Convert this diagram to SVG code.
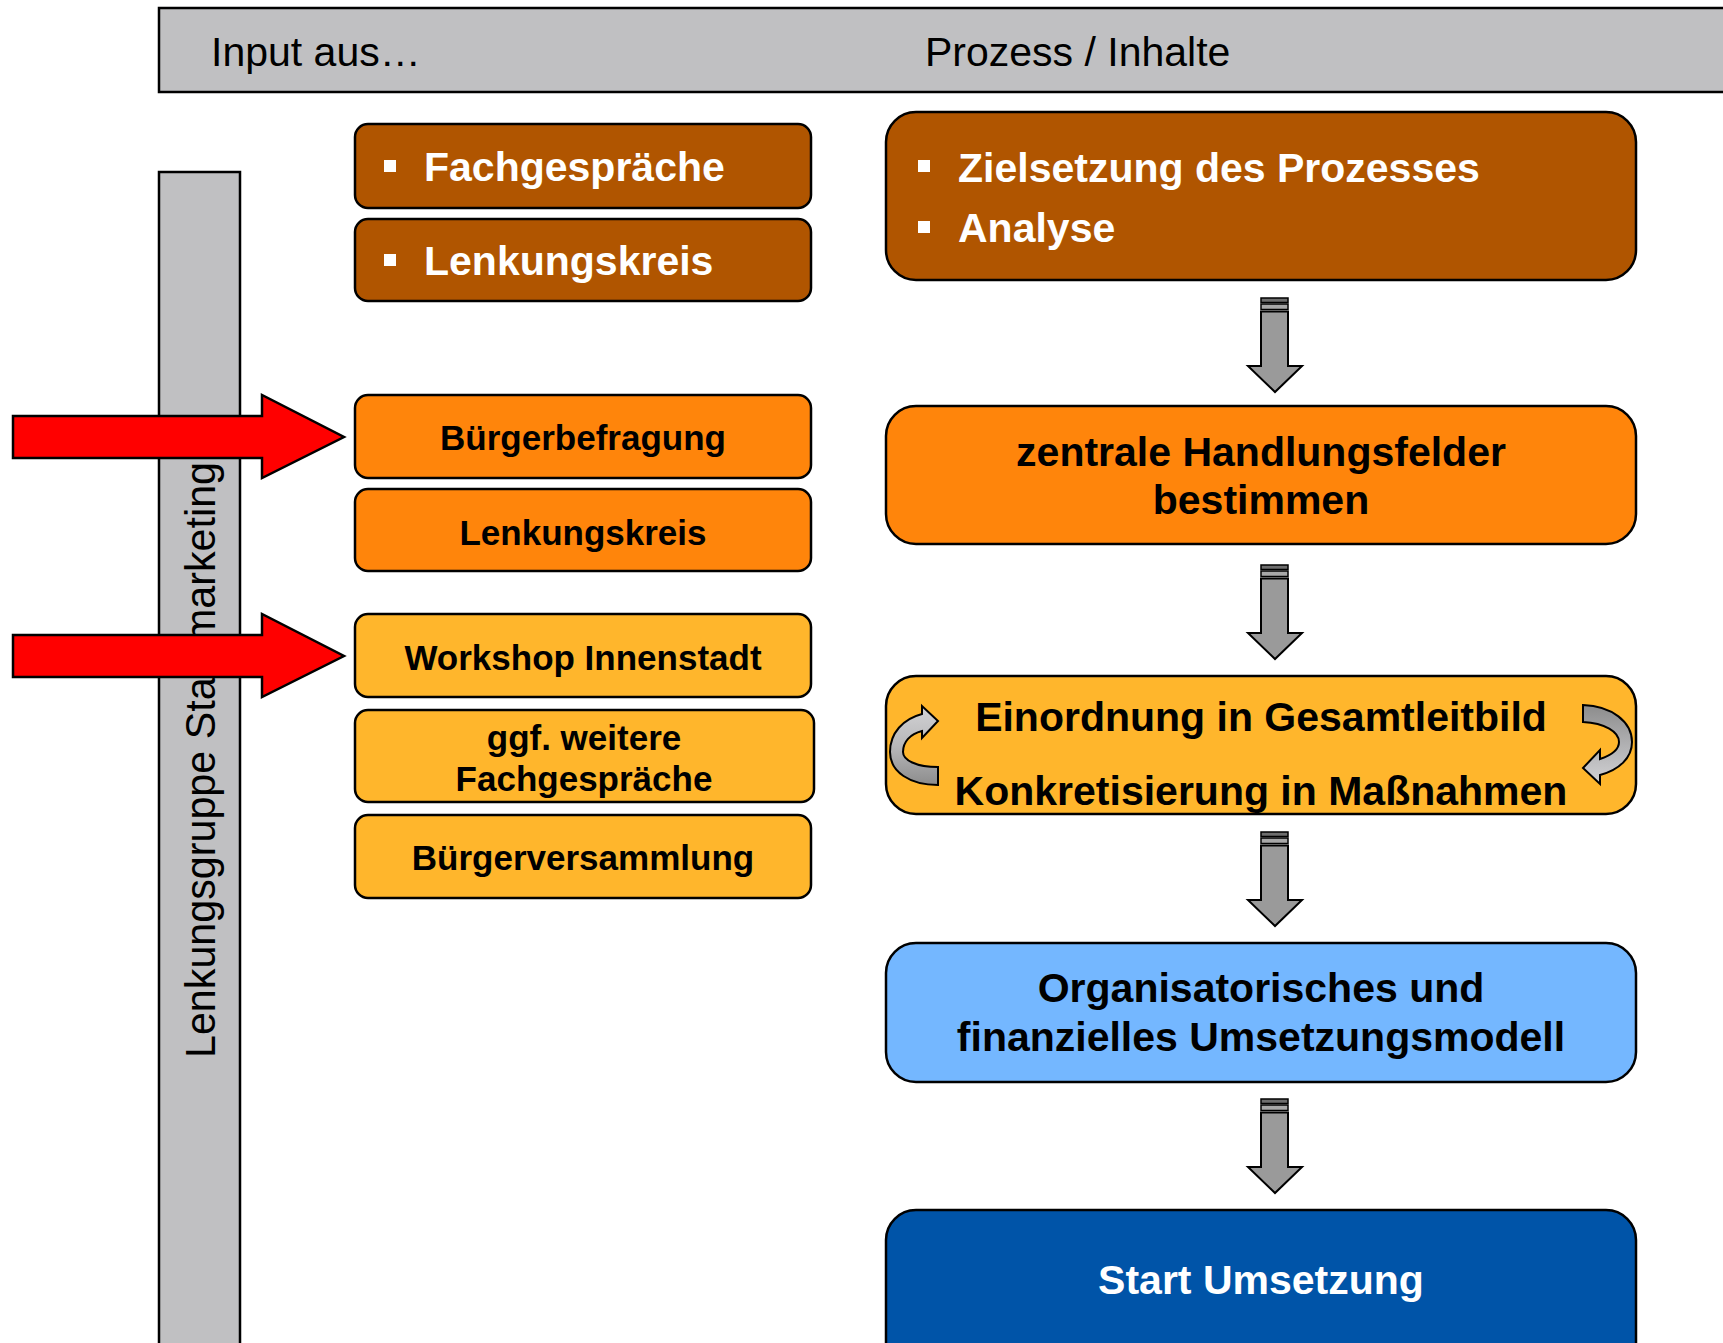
<svg xmlns="http://www.w3.org/2000/svg" width="1723" height="1343" viewBox="0 0 1723 1343">
  <defs>
    <style>
      .lbl { font-family: "Liberation Sans", Arial, sans-serif; }
      .b { font-weight: bold; }
      .box { stroke: #000; stroke-width: 2.5; }
      .brown { fill: #B05500; }
      .orange { fill: #FF850B; }
      .yellow { fill: #FFB62C; }
      .lblue { fill: #74B7FF; }
      .dblue { fill: #0054A8; }
      .gray { fill: #C0C0C2; stroke: #000; stroke-width: 2.5; }
      .down { fill: #9A9A9A; stroke: #000; stroke-width: 2; stroke-linejoin: miter; }
      .stripe { fill: #6E6E6E; stroke: #000; stroke-width: 1.5; }
      .stripe2 { fill: #A8A8A8; stroke: #000; stroke-width: 1.5; }
      .red { fill: #FF0000; stroke: #000; stroke-width: 2.5; stroke-linejoin: miter; }
      .curl { stroke: #000; stroke-width: 2; stroke-linejoin: miter; }
    </style>
    <linearGradient id="curlL" x1="0" y1="0" x2="0" y2="1">
      <stop offset="0" stop-color="#D2D2D4"/>
      <stop offset="0.5" stop-color="#B8B8BA"/>
      <stop offset="1" stop-color="#8C8C8C"/>
    </linearGradient>
    <linearGradient id="curlR" x1="0" y1="0" x2="0" y2="1">
      <stop offset="0" stop-color="#8C8C8C"/>
      <stop offset="0.5" stop-color="#B0B0B2"/>
      <stop offset="1" stop-color="#D2D2D4"/>
    </linearGradient>
    <g id="downArrow">
      <rect class="stripe" x="-14" y="0" width="27" height="4.5"/>
      <rect class="stripe2" x="-14" y="6" width="27" height="5.5"/>
      <path class="down" d="M-14,13.5 H13 V68 H27 L0,94 L-27,68 H-14 Z"/>
    </g>
  </defs>

  <!-- header strip -->
  <g id="header">
    <rect class="gray" x="159" y="8" width="1580" height="84"/>
    <text class="lbl" x="211" y="66" font-size="41" fill="#000">Input aus…</text>
    <text class="lbl" x="925" y="66" font-size="41" fill="#000">Prozess / Inhalte</text>
  </g>

  <!-- side bar -->
  <g id="sidebar">
    <rect class="gray" x="159" y="172" width="81" height="1190"/>
    <text class="lbl" transform="translate(215,1058) rotate(-90)" font-size="42" textLength="596" lengthAdjust="spacingAndGlyphs" fill="#000">Lenkungsgruppe Stadtmarketing</text>
  </g>

  <!-- input column -->
  <g id="in-fachgespraeche">
    <rect class="box brown" x="355" y="124" width="456" height="84" rx="13"/>
    <rect x="384" y="160" width="12" height="12" fill="#fff"/>
    <text class="lbl b" x="424" y="181" font-size="41" fill="#fff">Fachgespräche</text>
  </g>
  <g id="in-lenkungskreis-1">
    <rect class="box brown" x="355" y="219" width="456" height="82" rx="13"/>
    <rect x="384" y="254" width="12" height="12" fill="#fff"/>
    <text class="lbl b" x="424" y="275" font-size="41" fill="#fff">Lenkungskreis</text>
  </g>
  <g id="in-buergerbefragung">
    <rect class="box orange" x="355" y="395" width="456" height="83" rx="13"/>
    <text class="lbl b" x="583" y="450" font-size="35" text-anchor="middle" fill="#000">Bürgerbefragung</text>
  </g>
  <g id="in-lenkungskreis-2">
    <rect class="box orange" x="355" y="489" width="456" height="82" rx="13"/>
    <text class="lbl b" x="583" y="545" font-size="35" text-anchor="middle" fill="#000">Lenkungskreis</text>
  </g>
  <g id="in-workshop">
    <rect class="box yellow" x="355" y="614" width="456" height="83" rx="13"/>
    <text class="lbl b" x="583" y="670" font-size="35" text-anchor="middle" fill="#000">Workshop Innenstadt</text>
  </g>
  <g id="in-weitere">
    <rect class="box yellow" x="355" y="710" width="459" height="92" rx="13"/>
    <text class="lbl b" x="584" y="750" font-size="35" text-anchor="middle" fill="#000">ggf. weitere</text>
    <text class="lbl b" x="584" y="791" font-size="35" text-anchor="middle" fill="#000">Fachgespräche</text>
  </g>
  <g id="in-buergerversammlung">
    <rect class="box yellow" x="355" y="815" width="456" height="83" rx="13"/>
    <text class="lbl b" x="583" y="870" font-size="35" text-anchor="middle" fill="#000">Bürgerversammlung</text>
  </g>

  <!-- process column -->
  <g id="p-ziel">
    <rect class="box brown" x="886" y="112" width="750" height="168" rx="30"/>
    <rect x="918" y="160" width="12" height="12" fill="#fff"/>
    <rect x="918" y="221" width="12" height="12" fill="#fff"/>
    <text class="lbl b" x="958" y="182" font-size="41" fill="#fff">Zielsetzung des Prozesses</text>
    <text class="lbl b" x="958" y="242" font-size="41" fill="#fff">Analyse</text>
  </g>
  <g id="p-handlungsfelder">
    <rect class="box orange" x="886" y="406" width="750" height="138" rx="30"/>
    <text class="lbl b" x="1261" y="466" font-size="41" text-anchor="middle" fill="#000">zentrale Handlungsfelder</text>
    <text class="lbl b" x="1261" y="514" font-size="41" text-anchor="middle" fill="#000">bestimmen</text>
  </g>
  <g id="p-einordnung">
    <rect class="box yellow" x="886" y="676" width="750" height="138" rx="30"/>
    <text class="lbl b" x="1261" y="731" font-size="41" text-anchor="middle" fill="#000">Einordnung in Gesamtleitbild</text>
    <text class="lbl b" x="1261" y="805" font-size="41" text-anchor="middle" fill="#000">Konkretisierung in Maßnahmen</text>
    <path class="curl" fill="url(#curlL)" d="M938,785 C910,785 890,772 890,752 C890,733 903,719 922,714 L922,706 L938,721 L922,738 L922,731 C910,734 903,742 903,752 C903,760 916,767 938,767 Z"/>
    <path class="curl" fill="url(#curlR)" d="M1583,705 C1612,706 1632,722 1632,742 C1632,758 1619,770 1600,775 L1600,784 L1583,768 L1600,750 L1600,759 C1612,755 1619,750 1619,742 C1619,732 1605,723 1583,722 Z"/>
  </g>
  <g id="p-modell">
    <rect class="box lblue" x="886" y="943" width="750" height="139" rx="30"/>
    <text class="lbl b" x="1261" y="1002" font-size="41" text-anchor="middle" fill="#000">Organisatorisches und</text>
    <text class="lbl b" x="1261" y="1051" font-size="41" text-anchor="middle" fill="#000">finanzielles Umsetzungsmodell</text>
  </g>
  <g id="p-start">
    <rect class="box dblue" x="886" y="1210" width="750" height="170" rx="30"/>
    <text class="lbl b" x="1261" y="1294" font-size="41" text-anchor="middle" fill="#fff">Start Umsetzung</text>
  </g>

  <!-- connectors -->
  <g id="connectors">
    <use href="#downArrow" x="1275" y="298"/>
    <use href="#downArrow" x="1275" y="565"/>
    <use href="#downArrow" x="1275" y="832"/>
    <use href="#downArrow" x="1275" y="1099"/>
    <path class="red" d="M13,416 H262 V395 L344,437 L262,478 V458 H13 Z"/>
    <path class="red" d="M13,635 H262 V614 L344,656 L262,697 V677 H13 Z"/>
  </g>
</svg>
